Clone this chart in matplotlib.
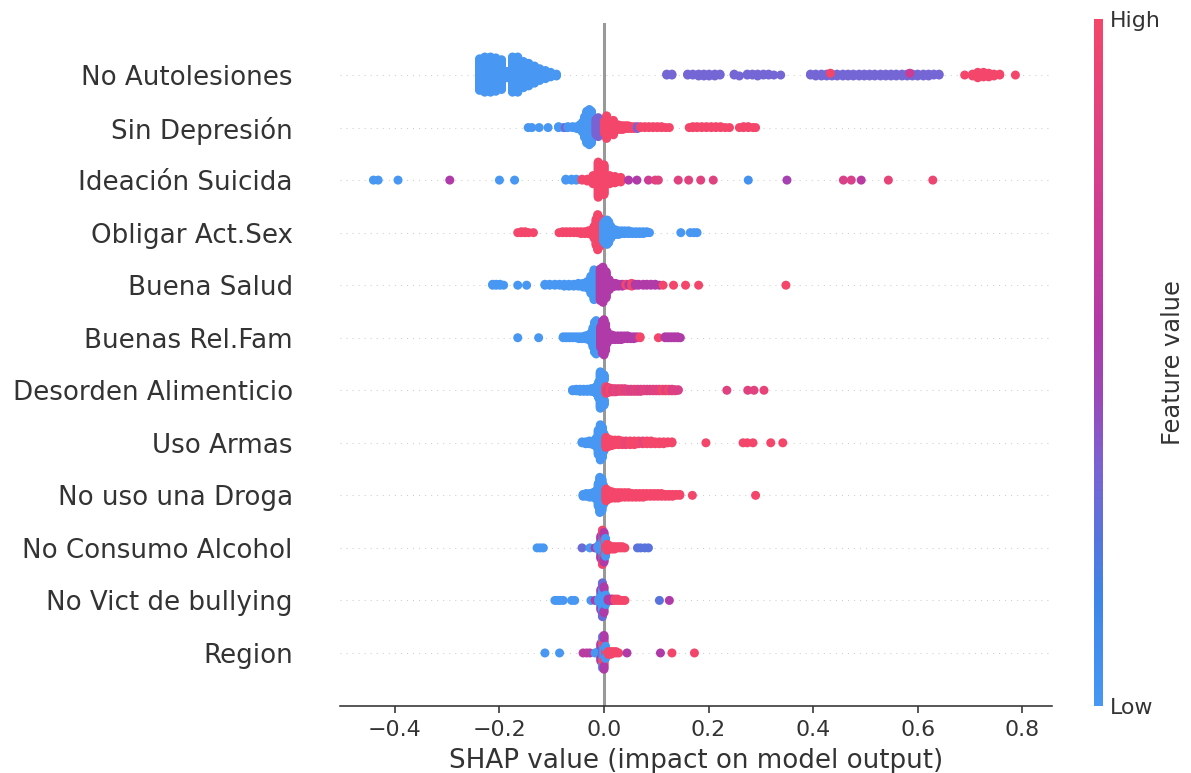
import numpy as np
import matplotlib
matplotlib.use("Agg")
import matplotlib.pyplot as plt
from matplotlib.colors import LinearSegmentedColormap

# Feature names, listed from top row to bottom row
features = [
    "No Autolesiones", "Sin Depresión", "Ideación Suicida", "Obligar Act.Sex",
    "Buena Salud", "Buenas Rel.Fam", "Desorden Alimenticio", "Uso Armas",
    "No uso una Droga", "No Consumo Alcohol", "No Vict de bullying", "Region",
]

# Each entry: (SHAP value, number of samples at that value, scaled feature value 0..1)
no_autolesiones = [
    (-0.238, 36, 0), (-0.228, 40, 0), (-0.217, 40, 0), (-0.207, 38, 0), (-0.196, 34, 0),
    (-0.186, 8, 0), (-0.175, 40, 0), (-0.165, 40, 0), (-0.154, 30, 0), (-0.144, 26, 0),
    (-0.133, 20, 0), (-0.123, 14, 0), (-0.112, 10, 0), (-0.102, 6, 0), (-0.091, 3, 0),
    (0.120, 2, 0.33), (0.130, 2, 0.33), (0.160, 2, 0.33), (0.170, 2, 0.33), (0.181, 3, 0.33),
    (0.191, 3, 0.33), (0.201, 3, 0.33), (0.212, 3, 0.33), (0.222, 2, 0.33), (0.249, 2, 0.33),
    (0.259, 1, 0.33), (0.274, 2, 0.33), (0.284, 2, 0.33), (0.294, 3, 0.33), (0.305, 2, 0.33),
    (0.315, 2, 0.33), (0.325, 1, 0.33), (0.338, 1, 0.33), (0.395, 2, 0.33), (0.405, 3, 0.33),
    (0.416, 3, 0.33), (0.426, 3, 0.33), (0.436, 3, 0.33), (0.446, 3, 0.33), (0.457, 3, 0.33),
    (0.467, 3, 0.33), (0.477, 3, 0.33), (0.488, 3, 0.33), (0.498, 3, 0.33), (0.508, 3, 0.33),
    (0.518, 3, 0.33), (0.529, 3, 0.33), (0.539, 3, 0.33), (0.549, 3, 0.33), (0.559, 3, 0.33),
    (0.570, 3, 0.33), (0.580, 3, 0.33), (0.590, 3, 0.33), (0.600, 3, 0.33), (0.611, 3, 0.33),
    (0.621, 3, 0.33), (0.631, 2, 0.33), (0.641, 2, 0.33), (0.585, 1, 0.7), (0.433, 1, 1),
    (0.690, 1, 1), (0.705, 3, 1), (0.715, 7, 1), (0.726, 6, 1), (0.736, 5, 1),
    (0.746, 3, 1), (0.757, 2, 1), (0.787, 1, 1),
]

sin_depresion = [
    (-0.145, 1, 0), (-0.138, 1, 0), (-0.124, 1, 0), (-0.107, 1, 0), (-0.087, 2, 0),
    (-0.078, 1, 0), (-0.074, 1, 0.35), (-0.069, 2, 0), (-0.060, 2, 0), (-0.052, 3, 0),
    (-0.046, 6, 0), (-0.041, 12, 0), (-0.037, 24, 0), (-0.033, 36, 0), (-0.028, 40, 0),
    (-0.024, 36, 0), (-0.020, 22, 0),
    (-0.015, 18, 0.35), (-0.011, 22, 0.35), (-0.007, 18, 0.35), (-0.003, 14, 0.35),
    (0.001, 14, 1), (0.005, 12, 1), (0.009, 10, 1), (0.014, 9, 1), (0.018, 8, 1),
    (0.023, 7, 1), (0.027, 6, 1), (0.032, 5, 1), (0.036, 5, 1), (0.041, 4, 1),
    (0.046, 4, 1), (0.052, 3, 1), (0.058, 3, 1), (0.064, 3, 0.35), (0.070, 2, 1),
    (0.078, 2, 1), (0.086, 2, 1), (0.094, 2, 1), (0.102, 2, 1), (0.110, 2, 1),
    (0.118, 1, 1), (0.125, 1, 1),
    (0.163, 1, 1), (0.170, 2, 1), (0.178, 2, 1), (0.187, 2, 1), (0.196, 2, 1),
    (0.205, 2, 1), (0.214, 2, 1), (0.223, 2, 1), (0.232, 1, 1), (0.240, 1, 1),
    (0.259, 1, 1), (0.267, 2, 1), (0.276, 2, 1), (0.285, 1, 1), (0.290, 1, 1),
]

ideacion_suicida = [
    (-0.441, 1, 0), (-0.432, 1, 0), (-0.394, 1, 0), (-0.295, 1, 0.55), (-0.200, 1, 0),
    (-0.171, 1, 0), (-0.073, 2, 0), (-0.062, 2, 0), (-0.053, 2, 0),
    (-0.042, 2, 1), (-0.032, 3, 1), (-0.021, 10, 1), (-0.011, 40, 1), (0.000, 34, 1),
    (0.011, 10, 1), (0.021, 8, 1), (0.032, 6, 1),
    (0.047, 1, 0.55), (0.063, 1, 0.55), (0.085, 1, 0.7), (0.098, 1, 0.85), (0.104, 1, 0.85),
    (0.142, 1, 0.85), (0.162, 1, 0.85), (0.185, 1, 0.85), (0.209, 1, 0.85), (0.276, 1, 0.05),
    (0.350, 1, 0.5), (0.458, 1, 0.8), (0.473, 1, 0.8), (0.492, 1, 0.6), (0.544, 1, 0.9),
    (0.629, 1, 0.95),
]

obligar_act_sex = [
    (-0.165, 1, 1), (-0.158, 2, 1), (-0.151, 2, 1), (-0.144, 1, 1), (-0.135, 1, 1),
    (-0.086, 1, 1), (-0.079, 2, 1), (-0.072, 2, 1), (-0.065, 2, 1), (-0.058, 2, 1),
    (-0.051, 2, 1), (-0.044, 3, 1), (-0.037, 3, 1), (-0.030, 4, 1), (-0.024, 6, 1),
    (-0.019, 14, 1), (-0.015, 30, 1), (-0.012, 40, 1), (-0.008, 32, 1), (-0.005, 18, 1),
    (-0.001, 20, 0), (0.002, 26, 0), (0.006, 28, 0), (0.009, 24, 0), (0.013, 14, 0),
    (0.017, 8, 0), (0.022, 6, 0), (0.028, 5, 0), (0.034, 4, 0), (0.040, 4, 0),
    (0.047, 4, 0), (0.054, 3, 0), (0.061, 3, 0), (0.068, 3, 0), (0.075, 3, 0),
    (0.082, 2, 0), (0.087, 1, 0), (0.147, 1, 0), (0.165, 1, 0), (0.172, 1, 0),
    (0.178, 1, 0),
]

buena_salud = [
    (-0.213, 2, 0), (-0.206, 2, 0), (-0.199, 2, 0), (-0.192, 1, 0), (-0.165, 1, 0),
    (-0.148, 1, 0), (-0.113, 2, 0), (-0.104, 2, 0), (-0.094, 2, 0), (-0.085, 2, 0),
    (-0.076, 3, 0), (-0.067, 3, 0), (-0.058, 3, 0), (-0.049, 4, 0), (-0.040, 5, 0),
    (-0.032, 8, 0), (-0.025, 20, 0), (-0.019, 34, 0), (-0.013, 30, 0),
    (-0.007, 36, 0.55), (-0.002, 40, 0.55), (0.004, 30, 0.55), (0.010, 12, 0.55),
    (0.016, 5, 0.55), (0.022, 4, 0.55), (0.028, 3, 0.55), (0.035, 3, 0.55), (0.042, 2, 1),
    (0.048, 2, 0.55), (0.053, 2, 1), (0.060, 2, 0.55), (0.066, 2, 0.55), (0.075, 2, 0.55),
    (0.082, 2, 0.55), (0.090, 2, 0.55), (0.098, 2, 0.55), (0.106, 1, 0.55), (0.113, 1, 1),
    (0.133, 1, 1), (0.156, 1, 1), (0.181, 1, 1), (0.348, 1, 1),
]

buenas_rel_fam = [
    (-0.165, 1, 0), (-0.125, 1, 0), (-0.078, 2, 0), (-0.072, 2, 0), (-0.066, 2, 0),
    (-0.060, 2, 0), (-0.054, 2, 0), (-0.048, 3, 0), (-0.042, 3, 0), (-0.036, 4, 0),
    (-0.030, 6, 0), (-0.025, 10, 0), (-0.021, 22, 0), (-0.018, 34, 0), (-0.015, 38, 0),
    (-0.012, 30, 0), (-0.009, 14, 0),
    (-0.006, 24, 0.55), (-0.003, 36, 0.55), (0.000, 40, 0.55), (0.003, 30, 0.55),
    (0.006, 14, 0.55), (0.010, 6, 0.55), (0.015, 6, 0.55), (0.021, 5, 0.55), (0.027, 5, 0.55),
    (0.033, 5, 0.55), (0.039, 4, 0.55), (0.045, 4, 0.55), (0.051, 3, 0.55), (0.057, 3, 0.55),
    (0.063, 2, 0.55), (0.069, 2, 1), (0.104, 1, 1), (0.117, 2, 0.55), (0.123, 2, 0.55),
    (0.129, 2, 0.55), (0.135, 2, 0.55), (0.141, 2, 0.55), (0.146, 1, 0.55),
]

desorden_alimenticio = [
    (-0.060, 3, 0), (-0.053, 4, 0), (-0.046, 5, 0), (-0.039, 5, 0), (-0.032, 5, 0),
    (-0.025, 6, 0), (-0.019, 8, 0), (-0.014, 16, 0), (-0.010, 32, 0), (-0.007, 40, 0),
    (-0.003, 36, 0), (0.000, 24, 0),
    (0.004, 14, 1), (0.008, 10, 0.85), (0.012, 8, 1), (0.017, 7, 0.85), (0.022, 7, 0.9),
    (0.028, 6, 0.85), (0.034, 6, 0.9), (0.040, 6, 0.85), (0.046, 5, 0.85), (0.052, 5, 0.8),
    (0.058, 5, 0.85), (0.064, 5, 0.85), (0.070, 5, 0.8), (0.076, 4, 0.85), (0.082, 4, 0.85),
    (0.088, 4, 0.8), (0.094, 4, 0.85), (0.100, 4, 0.85), (0.106, 4, 0.85), (0.112, 4, 1),
    (0.118, 4, 0.85), (0.124, 4, 1), (0.130, 4, 0.8), (0.136, 3, 0.85), (0.142, 2, 0.8),
    (0.235, 1, 0.85), (0.275, 1, 0.85), (0.287, 1, 0.85), (0.306, 1, 0.9),
]

uso_armas = [
    (-0.042, 2, 0), (-0.035, 3, 0), (-0.028, 4, 0), (-0.021, 5, 0), (-0.015, 10, 0),
    (-0.011, 28, 0), (-0.007, 40, 0), (-0.003, 34, 0), (0.000, 20, 0),
    (0.004, 12, 1), (0.009, 9, 1), (0.015, 7, 1), (0.021, 6, 1), (0.028, 6, 1),
    (0.035, 5, 1), (0.042, 5, 0.92), (0.050, 5, 1), (0.058, 5, 1), (0.066, 4, 1),
    (0.074, 4, 0.92), (0.082, 4, 1), (0.090, 4, 1), (0.098, 3, 1), (0.106, 3, 1),
    (0.114, 3, 1), (0.122, 2, 1), (0.130, 2, 1), (0.195, 1, 1), (0.266, 1, 1),
    (0.274, 1, 1), (0.285, 1, 1), (0.319, 1, 1), (0.342, 1, 1),
]

no_uso_droga = [
    (-0.040, 3, 0), (-0.034, 4, 0), (-0.027, 5, 0), (-0.021, 6, 0), (-0.015, 10, 0),
    (-0.011, 26, 0), (-0.008, 40, 0), (-0.004, 36, 0), (-0.001, 22, 0),
    (0.004, 14, 1), (0.009, 10, 1), (0.015, 8, 1), (0.021, 7, 1), (0.027, 7, 1),
    (0.033, 6, 1), (0.040, 6, 1), (0.047, 6, 1), (0.054, 5, 1), (0.061, 5, 1),
    (0.068, 5, 1), (0.075, 5, 1), (0.082, 4, 1), (0.089, 4, 1), (0.096, 4, 1),
    (0.103, 4, 1), (0.110, 4, 1), (0.117, 3, 1), (0.124, 3, 1), (0.131, 3, 1),
    (0.138, 2, 1), (0.145, 2, 1), (0.169, 1, 1), (0.290, 1, 1),
]

no_consumo_alcohol = [
    (-0.128, 1, 0), (-0.122, 1, 0), (-0.116, 1, 0),
    (-0.042, 1, 0.3), (-0.027, 1, 0), (-0.017, 1, 0.55), (-0.012, 2, 0), (-0.009, 6, 0),
    (-0.006, 14, 0), (-0.006, 6, 0.55), (-0.003, 16, 0), (-0.003, 8, 0.3), (-0.003, 6, 1),
    (0.000, 12, 0), (0.000, 8, 1), (0.000, 6, 0.55), (0.003, 10, 1), (0.003, 6, 0),
    (0.006, 6, 1), (0.010, 4, 1), (0.015, 3, 1), (0.020, 3, 1), (0.025, 2, 1),
    (0.030, 2, 1), (0.035, 2, 1), (0.040, 1, 1),
    (0.064, 1, 0.25), (0.070, 1, 0.25), (0.078, 1, 0.25), (0.085, 1, 0.25),
]

no_vict_bullying = [
    (-0.094, 1, 0), (-0.089, 1, 0), (-0.084, 1, 0), (-0.078, 1, 0), (-0.062, 1, 0),
    (-0.056, 1, 0), (-0.025, 1, 0), (-0.017, 1, 0.55), (-0.010, 3, 0),
    (-0.006, 12, 0), (-0.006, 4, 0.5), (-0.003, 20, 0), (-0.003, 6, 0.3), (0.000, 16, 0),
    (0.000, 4, 0.55), (0.003, 8, 0),
    (0.008, 2, 0.55), (0.012, 2, 0.55), (0.016, 2, 0.55), (0.021, 2, 1), (0.026, 2, 1),
    (0.031, 1, 1), (0.036, 1, 1), (0.040, 1, 1), (0.106, 1, 0.25), (0.125, 1, 0.55),
]

region = [
    (-0.113, 1, 0), (-0.085, 1, 0), (-0.040, 1, 0.6), (-0.033, 1, 0.6), (-0.027, 1, 0.6),
    (-0.017, 1, 0), (-0.011, 2, 0),
    (-0.006, 8, 0), (-0.006, 6, 0.55), (-0.003, 10, 0.3), (-0.003, 8, 1), (-0.003, 6, 0),
    (0.000, 12, 0), (0.000, 8, 1), (0.000, 6, 0.55), (0.003, 6, 1), (0.003, 4, 0),
    (0.008, 3, 1), (0.013, 3, 1), (0.018, 2, 1), (0.023, 2, 1), (0.028, 1, 1),
    (0.044, 1, 0.55), (0.108, 1, 0.55), (0.130, 1, 1), (0.173, 1, 1),
]

rows = [
    no_autolesiones, sin_depresion, ideacion_suicida, obligar_act_sex, buena_salud,
    buenas_rel_fam, desorden_alimenticio, uso_armas, no_uso_droga, no_consumo_alcohol,
    no_vict_bullying, region,
]

# Blue -> purple -> red colour scale for the feature value
cmap = LinearSegmentedColormap.from_list("red_blue_soft", [
    (0.00, "#4797f3"), (0.15, "#3d86e8"), (0.25, "#5873dc"), (0.35, "#7b62d2"),
    (0.45, "#9a48b8"), (0.55, "#b03aa8"), (0.70, "#cc3c95"), (0.85, "#e04280"),
    (1.00, "#f3466a"),
])


def swarm_offsets(x, row_height=0.4, nbins=100):
    """Stack samples that fall into the same SHAP bin alternately above/below the row."""
    quant = np.round(nbins * (x - x.min()) / (x.max() - x.min() + 1e-8))
    order = np.argsort(quant, kind="stable")
    ys = np.zeros(len(x))
    layer, last_bin = 0, -1
    for i in order:
        if quant[i] != last_bin:
            layer = 0
        ys[i] = np.ceil(layer / 2) * ((layer % 2) * 2 - 1)
        layer += 1
        last_bin = quant[i]
    ys *= 0.9 * (row_height / np.max(ys + 1))
    return ys


DPI = 145
fig = plt.figure(figsize=(1191 / DPI, 773 / DPI), dpi=DPI)
ax = fig.add_axes([340 / 1191, (773 - 705.5) / 773, 712 / 1191, 683 / 773])

n_feat = len(features)
for k, (name, data) in enumerate(zip(features, rows)):
    pos = n_feat - 1 - k
    vals = np.array([d[0] for d in data], dtype=float)
    counts = np.array([d[1] for d in data], dtype=int)
    cols = np.array([d[2] for d in data], dtype=float)
    x = np.repeat(vals, counts)
    c = np.repeat(cols, counts)
    ys = swarm_offsets(x)
    ax.axhline(y=pos, color="#cccccc", lw=0.5, dashes=(1, 5), zorder=-1)
    ax.scatter(x, pos + ys, c=c, cmap=cmap, vmin=0, vmax=1, s=20, linewidth=0,
               alpha=1, zorder=3)

ax.axvline(x=0, color="#999999", zorder=-1)

ax.set_xlim(-0.505, 0.857)
ax.set_ylim(-1, n_feat)
ax.set_yticks(range(n_feat))
ax.set_yticklabels(features[::-1], fontsize=13, color="#333333")
ax.yaxis.set_ticks_position("none")
ax.tick_params("y", length=20, width=0.5, which="major")
ax.xaxis.set_ticks_position("bottom")
ax.tick_params("x", labelsize=11, colors="#333333")
ax.set_xticks([-0.4, -0.2, 0.0, 0.2, 0.4, 0.6, 0.8])
for side in ("right", "top", "left"):
    ax.spines[side].set_visible(False)
ax.spines["bottom"].set_color("#333333")
ax.set_xlabel("SHAP value (impact on model output)", fontsize=13, color="#333333")

# Colour bar for the feature value
cax = fig.add_axes([1094 / 1191, (773 - 706) / 773, 9 / 1191, 687 / 773])
sm = plt.cm.ScalarMappable(cmap=cmap, norm=plt.Normalize(0, 1))
cb = fig.colorbar(sm, cax=cax, ticks=[0, 1])
cb.set_ticklabels(["Low", "High"])
cb.ax.tick_params(labelsize=11, length=0, colors="#333333")
cb.set_label("Feature value", size=12, labelpad=0, color="#333333")
cb.outline.set_visible(False)

fig.savefig("out.png", dpi=DPI)
